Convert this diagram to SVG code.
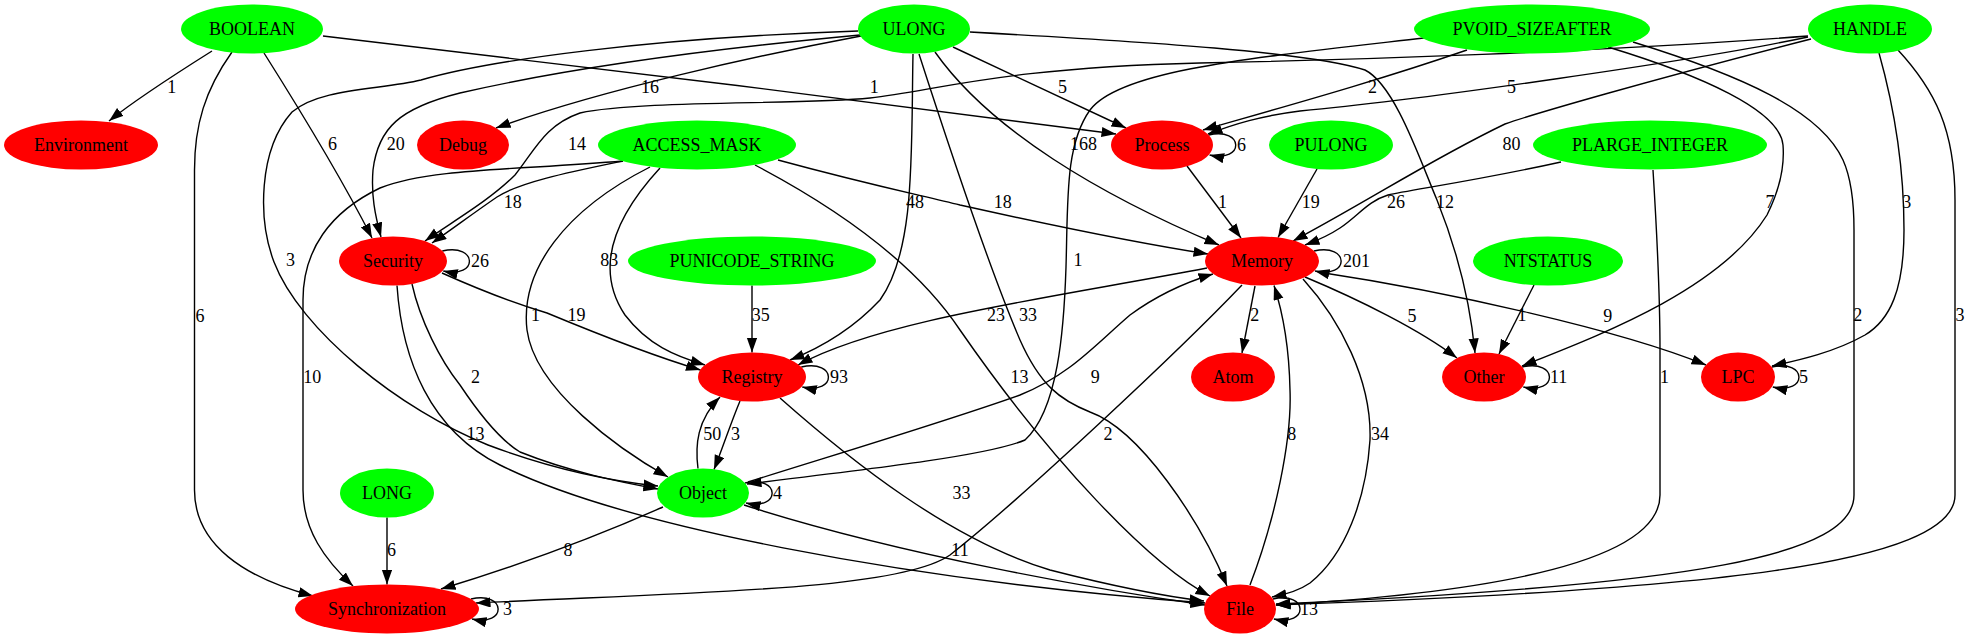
<svg xmlns="http://www.w3.org/2000/svg" width="1970" height="639" viewBox="0 0 1970 639">
<defs>
<style>
.g{fill:#00ff00}
.r{fill:#ff0000}
text{font-family:"Liberation Serif",serif;font-size:18px;fill:#000}
.n text{text-anchor:middle}
.lb text{text-anchor:middle}
.lb text.s{text-anchor:start}
.e path{fill:none;stroke:#000;stroke-width:1.4;marker-end:url(#a)}
</style>
<marker id="a" viewBox="0 0 15 11" markerWidth="15" markerHeight="11" refX="14.5" refY="5.1" orient="auto" markerUnits="userSpaceOnUse"><path d="M0,0 L14.5,5.1 L0,10.2 z" fill="#000"/></marker>
</defs>
<rect width="1970" height="639" fill="#fff"/>
<g class="e" id="connectors">
<path d="M212,51 C185,68 135,100 109,121"/>
<path d="M232,52 C205,90 194.5,125 194.5,170 L194.5,490 C194.5,545 245,578 313,596"/>
<path d="M264,53 C300,110 340,175 372,238"/>
<path d="M323,36 C520,58 900,105 1116,134"/>
<path d="M860,35 C700,50 560,70 460,93 C400,108 378,128 373,170 C371,195 375,215 381,237"/>
<path d="M861,36 C760,55 600,90 496,128"/>
<path d="M858,31 C650,38 490,60 421,80 C380,90 320,88 292,112 C258,150 258,220 274,262 C300,330 400,410 488,445 C560,472 620,482 658,486"/>
<path d="M953,47 L1126,128"/>
<path d="M935,52 C990,130 1100,195 1219,245"/>
<path d="M913,54 C911,150 916,250 880,300 C850,332 815,350 790,360"/>
<path d="M919,54 C950,150 990,270 1020,340 C1040,385 1060,400 1090,412 C1140,430 1200,520 1227,586"/>
<path d="M970,32 C1150,42 1310,52 1365,70 C1395,85 1420,160 1437,200 C1455,245 1470,300 1475,353"/>
<path d="M623,161 C570,172 520,182 497,197 C475,212 455,227 432,243"/>
<path d="M623,161 C520,170 430,168 380,188 C330,212 303,250 303,300 L303,490 C303,530 325,560 353,586"/>
<path d="M650,167 C565,210 520,270 527,330 C535,390 620,450 668,477"/>
<path d="M660,168 C612,220 595,270 625,315 C648,345 675,356 705,365"/>
<path d="M755,165 C850,215 920,270 960,330 C1050,460 1150,565 1210,596"/>
<path d="M778,160 C870,185 920,195 960,205 C1050,225 1150,245 1208,254"/>
<path d="M1467,50 C1380,80 1290,105 1203,130"/>
<path d="M1424,38 C1250,58 1120,70 1090,110 C1065,145 1068,200 1066,267 C1064,330 1058,410 1025,440 C990,455 880,468 747,484"/>
<path d="M1608,47 C1700,75 1780,110 1783,145 C1785,170 1777,195 1767,215 C1720,290 1600,335 1522,366"/>
<path d="M1633,42 C1740,75 1820,110 1843,160 C1852,180 1854,205 1854,230 L1854,495 C1854,555 1700,585 1276,604"/>
<path d="M1808,37 C1700,60 1420,100 1300,111 C1260,116 1235,124 1208,134"/>
<path d="M1808,36 C1600,52 1350,60 1200,63 C1000,68 940,90 870,98 C800,105 640,100 580,113 C545,125 535,150 515,175 C490,200 455,220 425,241"/>
<path d="M1811,39 C1650,80 1530,115 1505,124 C1430,160 1370,200 1293,241"/>
<path d="M1879,53 C1895,110 1904,170 1904,230 C1904,290 1890,320 1865,335 C1835,352 1800,360 1772,366"/>
<path d="M1898,50 C1935,90 1955,130 1955,200 L1955,495 C1955,565 1700,590 1276,605"/>
<path d="M1317,169 L1278,237.5"/>
<path d="M1561,162 C1480,180 1410,190 1388,195 C1368,201 1358,216 1340,228 C1328,236 1316,241 1305,245"/>
<path d="M1653,170 C1658,250 1660,300 1660,350 L1660,495 C1660,560 1500,592 1276,605"/>
<path d="M1534,285 L1499,354"/>
<path d="M752,285.5 L752,352.5"/>
<path d="M387,517.5 L387,584.5"/>
<path d="M1187,166 L1241,238"/>
<path d="M442,273 C480,290 520,305 547,313 C600,335 650,355 700.5,370"/>
<path d="M412,284 C420,320 440,360 460,385 C480,415 500,440 520,452 C570,472 620,482 658,489"/>
<path d="M397,285.5 C402,360 430,430 500,465 C620,525 900,580 1205,603"/>
<path d="M1207,268 C1050,298 880,320 798,365"/>
<path d="M1255,286 L1242,353"/>
<path d="M1305,277 C1360,300 1420,330 1457,358"/>
<path d="M1318,272 C1450,292 1620,330 1706,365"/>
<path d="M1303,279 C1340,320 1372,380 1370,440 C1366,500 1345,555 1310,583 C1300,590 1288,594 1272,597"/>
<path d="M1242,285 C1180,350 1020,500 950,555 C900,590 700,592 476,603"/>
<path d="M748,482 C850,450 950,420 1020,395 C1070,375 1095,345 1130,315 C1160,293 1190,281 1213,274"/>
<path d="M740,401 C730,425 722,450 714,469.5"/>
<path d="M780,398 C850,460 950,540 1050,570 C1120,588 1170,597 1204,601"/>
<path d="M698,468.5 C695,445 697,420 720,397"/>
<path d="M663,507 C600,535 520,565 441,589"/>
<path d="M744,505 C900,555 1100,590 1205,605"/>
<path d="M1250,585 C1275,520 1292,440 1290,390 C1289,340 1282,310 1274,285.5"/>
<path d="M442.3,251 C478.3,243 478.3,279 443.3,271"/>
<path d="M1208.6,135 C1244.6,127 1244.6,163 1209.6,155"/>
<path d="M1314,251 C1350,243 1350,279 1315,271"/>
<path d="M801.3,367 C837.3,359 837.3,395 802.3,387"/>
<path d="M1522.3,367 C1558.3,359 1558.3,395 1523.3,387"/>
<path d="M1771.8,367 C1807.8,359 1807.8,395 1772.8,387"/>
<path d="M745,483 C781,475 781,511 746,503"/>
<path d="M1272.9,599 C1308.9,591 1308.9,627 1273.9,619"/>
<path d="M471,599 C507,591 507,627 472,619"/>
</g>
<g class="lb" id="edge-labels">
<text x="171.7" y="92.7">1</text>
<text x="200" y="322">6</text>
<text x="332.5" y="150.3">6</text>
<text x="874.3" y="92.7">1</text>
<text x="395.8" y="150.3">20</text>
<text x="650" y="92.7">16</text>
<text x="290.4" y="266">3</text>
<text x="1062.5" y="92.7">5</text>
<text x="1083.5" y="150.3">168</text>
<text x="915" y="207.7">48</text>
<text x="1028" y="321">33</text>
<text x="1445" y="207.7">12</text>
<text x="512.8" y="207.7">18</text>
<text x="312.3" y="382.7">10</text>
<text x="535.4" y="321">1</text>
<text x="609.2" y="266">83</text>
<text x="1019.5" y="382.7">13</text>
<text x="1002.7" y="207.7">18</text>
<text x="1372.6" y="92.7">2</text>
<text x="1078" y="266">1</text>
<text x="1770" y="207.7">7</text>
<text x="1857.7" y="321">2</text>
<text x="1511.5" y="92.7">5</text>
<text x="577" y="150.3">14</text>
<text x="1511.5" y="150.3">80</text>
<text x="1906.8" y="207.7">3</text>
<text x="1960" y="321">3</text>
<text x="1310.7" y="207.7">19</text>
<text x="1396" y="207.7">26</text>
<text x="1664.5" y="382.7">1</text>
<text x="1522" y="321">1</text>
<text x="760.7" y="321">35</text>
<text x="391.4" y="556">6</text>
<text x="1222.4" y="207.7">1</text>
<text x="576.6" y="321">19</text>
<text x="475.6" y="382.7">2</text>
<text x="475.6" y="440.3">13</text>
<text x="996" y="321">23</text>
<text x="1254.8" y="321">2</text>
<text x="1412" y="322">5</text>
<text x="1607.7" y="322">9</text>
<text x="1380" y="440.3">34</text>
<text x="1108" y="440.3">2</text>
<text x="1095.3" y="382.7">9</text>
<text x="735.4" y="440.3">3</text>
<text x="961.4" y="498.7">33</text>
<text x="712.3" y="440.3">50</text>
<text x="568" y="556">8</text>
<text x="960" y="556">11</text>
<text x="1291.8" y="440.3">8</text>
<text class="s" x="471" y="267">26</text>
<text class="s" x="1237" y="151">6</text>
<text class="s" x="1343" y="267">201</text>
<text class="s" x="830" y="383">93</text>
<text class="s" x="1550" y="383">11</text>
<text class="s" x="1799" y="383">5</text>
<text class="s" x="773" y="499">4</text>
<text class="s" x="1300" y="615">13</text>
<text class="s" x="503" y="615">3</text>
</g>
<g class="n" id="BOOLEAN"><ellipse class="g" cx="252" cy="29" rx="71" ry="24.5"/><text x="252" y="35">BOOLEAN</text></g>
<g class="n" id="ULONG"><ellipse class="g" cx="914" cy="29" rx="56" ry="24.5"/><text x="914" y="35">ULONG</text></g>
<g class="n" id="PVOID_SIZEAFTER"><ellipse class="g" cx="1532" cy="29" rx="118" ry="24.5"/><text x="1532" y="35">PVOID_SIZEAFTER</text></g>
<g class="n" id="HANDLE"><ellipse class="g" cx="1870" cy="29" rx="62" ry="24.5"/><text x="1870" y="35">HANDLE</text></g>
<g class="n" id="Environment"><ellipse class="r" cx="81" cy="145" rx="77" ry="24.5"/><text x="81" y="151">Environment</text></g>
<g class="n" id="Debug"><ellipse class="r" cx="463" cy="145" rx="46" ry="24.5"/><text x="463" y="151">Debug</text></g>
<g class="n" id="ACCESS_MASK"><ellipse class="g" cx="697" cy="145" rx="99" ry="24.5"/><text x="697" y="151">ACCESS_MASK</text></g>
<g class="n" id="Process"><ellipse class="r" cx="1162" cy="145" rx="51" ry="24.5"/><text x="1162" y="151">Process</text></g>
<g class="n" id="PULONG"><ellipse class="g" cx="1331" cy="145" rx="62" ry="24.5"/><text x="1331" y="151">PULONG</text></g>
<g class="n" id="PLARGE_INTEGER"><ellipse class="g" cx="1650" cy="145" rx="117" ry="24.5"/><text x="1650" y="151">PLARGE_INTEGER</text></g>
<g class="n" id="Security"><ellipse class="r" cx="393" cy="261" rx="54" ry="24.5"/><text x="393" y="267">Security</text></g>
<g class="n" id="PUNICODE_STRING"><ellipse class="g" cx="752" cy="261" rx="124" ry="24.5"/><text x="752" y="267">PUNICODE_STRING</text></g>
<g class="n" id="Memory"><ellipse class="r" cx="1262" cy="261" rx="57" ry="24.5"/><text x="1262" y="267">Memory</text></g>
<g class="n" id="NTSTATUS"><ellipse class="g" cx="1548" cy="261" rx="75" ry="24.5"/><text x="1548" y="267">NTSTATUS</text></g>
<g class="n" id="Registry"><ellipse class="r" cx="752" cy="377" rx="54" ry="24.5"/><text x="752" y="383">Registry</text></g>
<g class="n" id="Atom"><ellipse class="r" cx="1233" cy="377" rx="42" ry="24.5"/><text x="1233" y="383">Atom</text></g>
<g class="n" id="Other"><ellipse class="r" cx="1484" cy="377" rx="42" ry="24.5"/><text x="1484" y="383">Other</text></g>
<g class="n" id="LPC"><ellipse class="r" cx="1738" cy="377" rx="37" ry="24.5"/><text x="1738" y="383">LPC</text></g>
<g class="n" id="LONG"><ellipse class="g" cx="387" cy="493" rx="47" ry="24.5"/><text x="387" y="499">LONG</text></g>
<g class="n" id="Object"><ellipse class="g" cx="703" cy="493" rx="46" ry="24.5"/><text x="703" y="499">Object</text></g>
<g class="n" id="Synchronization"><ellipse class="r" cx="387" cy="609" rx="92" ry="24.5"/><text x="387" y="615">Synchronization</text></g>
<g class="n" id="File"><ellipse class="r" cx="1240" cy="609" rx="36" ry="24.5"/><text x="1240" y="615">File</text></g>
</svg>
